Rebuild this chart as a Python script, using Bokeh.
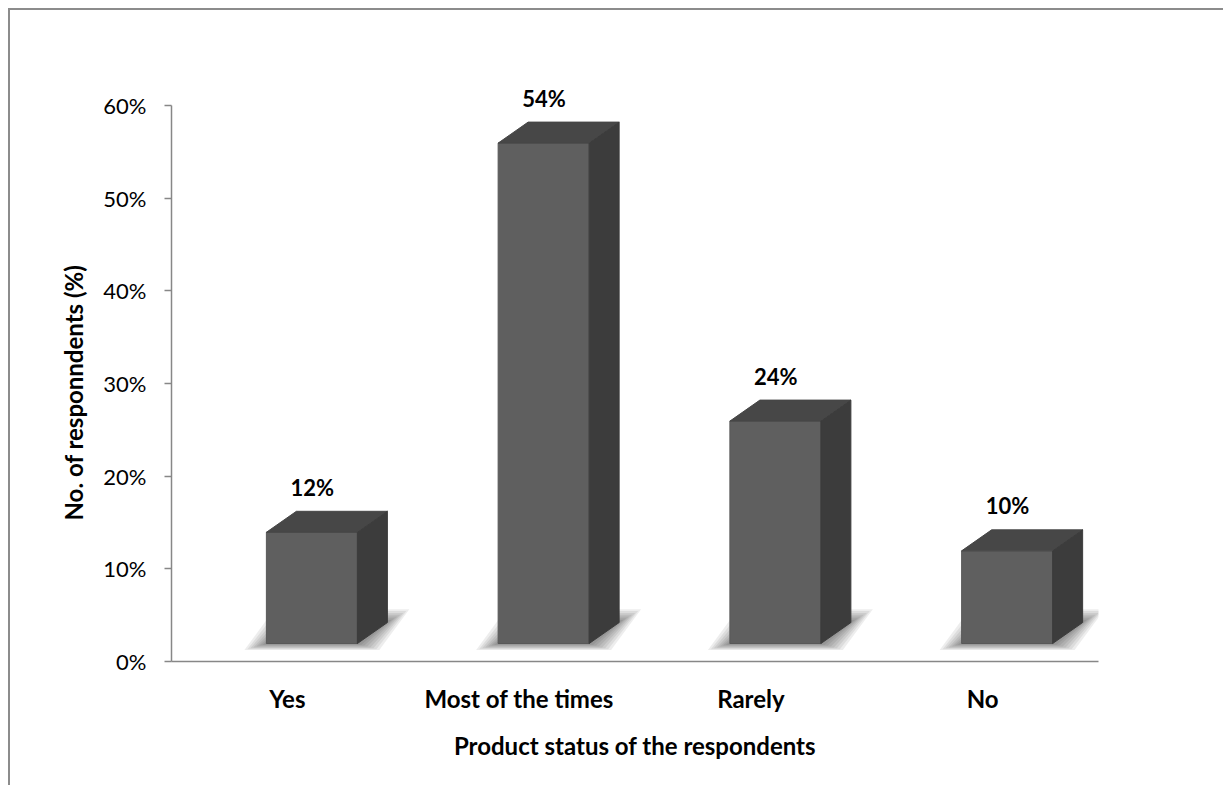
from bokeh.plotting import figure
from bokeh.models import Range1d, FixedTicker, Title
from bokeh.core.properties import value
from bokeh.embed import file_html
from bokeh.resources import INLINE

# ---- data ----
categories = ["Yes", "Most of the times", "Rarely", "No"]
respondents_pct = [12, 54, 24, 10]
value_labels = ["12%", "54%", "24%", "10%"]
y_ticks = [0, 10, 20, 30, 40, 50, 60]
y_tick_labels = ["0%", "10%", "20%", "30%", "40%", "50%", "60%"]
x_title = "Product status of the respondents"
y_title = "No. of responndents (%)"

# ---- layout (pixels) ----
W, H = 1223, 785
BORDER_L, BORDER_R, BORDER_T, BORDER_B = 171, 125, 40, 124
frame_w = W - BORDER_L - BORDER_R
frame_h = H - BORDER_T - BORDER_B
ux = frame_w / len(categories)          # px per category unit
uy = 556 / y_ticks[-1]                  # px per percent (0..60 % spans 556 px)

FONT = "Lato"
BOLD_SIZE = "24px"
TICK_SIZE = "22px"

p = figure(
    width=W, height=H,
    x_range=Range1d(0, len(categories)),
    y_range=Range1d(0, frame_h / uy),
    output_backend="svg", toolbar_location=None,
    min_border_left=BORDER_L, min_border_right=BORDER_R,
    min_border_top=BORDER_T, min_border_bottom=BORDER_B,
)
p.outline_line_color = None
p.xgrid.visible = False
p.ygrid.visible = False
p.background_fill_color = "white"
p.border_fill_color = "white"

# ---- 3D column geometry (px converted to data units) ----
front_off = -21 / ux        # front face left edge relative to category centre
front_w = 91 / ux
lift = 18 / uy              # front face sits slightly above the floor line
dx = 30 / ux                # depth offset to the back face
dy = 21 / uy

centers = [i + 0.5 for i in range(len(categories))]

shadow_xs, shadow_ys, shadow_alpha = [], [], []
front_l, front_r, front_b, front_t = [], [], [], []
top_xs, top_ys, side_xs, side_ys = [], [], [], []
lab_x, lab_y = [], []

for c, v in zip(centers, respondents_pct):
    fl = c + front_off
    fr = fl + front_w
    b = lift
    t = lift + v
    # soft floor shadow: stacked, widening translucent footprints
    for e in [22, 19, 16, 13, 10, 7, 4, 1]:
        ex, ey = e / ux, e / uy
        shadow_xs.append([fl - ex, fr + ex, fr + dx + ex, fl + dx - ex])
        shadow_ys.append([b - 0.3 * ey, b - 0.3 * ey, b + dy + 0.6 * ey, b + dy + 0.6 * ey])
        shadow_alpha.append(0.07)
    front_l.append(fl); front_r.append(fr); front_b.append(b); front_t.append(t)
    top_xs.append([fl, fr, fr + dx, fl + dx])
    top_ys.append([t, t, t + dy, t + dy])
    side_xs.append([fr, fr + dx, fr + dx, fr])
    side_ys.append([b, b + dy, t + dy, t])
    lab_x.append(c + 25 / ux)
    lab_y.append(t + dy + 24 / uy)

p.patches(shadow_xs, shadow_ys, fill_color="black", fill_alpha=shadow_alpha, line_color=None)
p.quad(left=front_l, right=front_r, bottom=front_b, top=front_t,
       fill_color="#5f5f5f", line_color="#585858", line_width=1)
p.patches(top_xs, top_ys, fill_color="#474747", line_color="#474747", line_width=1)
p.patches(side_xs, side_ys, fill_color="#3c3c3c", line_color="#3c3c3c", line_width=1)

p.text(x=lab_x, y=lab_y, text=value_labels, text_font=value(FONT), text_font_style="bold",
       text_font_size=TICK_SIZE, text_color="black", text_align="center", text_baseline="middle")

# ---- axes ----
AXIS_COLOR = "#878787"

xa = p.xaxis[0]
xa.ticker = FixedTicker(ticks=centers)
xa.major_label_overrides = {c: name for c, name in zip(centers, categories)}
xa.axis_line_color = AXIS_COLOR
xa.axis_line_width = 1.5
xa.major_tick_out = 0
xa.major_tick_in = 0
xa.minor_tick_out = 0
xa.minor_tick_in = 0
xa.major_label_standoff = 22
xa.major_label_text_font = FONT
xa.major_label_text_font_style = "bold"
xa.major_label_text_font_size = BOLD_SIZE
xa.major_label_text_color = "black"
xa.axis_label = x_title
xa.axis_label_standoff = 15
xa.axis_label_text_font = FONT
xa.axis_label_text_font_style = "bold"
xa.axis_label_text_font_size = BOLD_SIZE
xa.axis_label_text_color = "black"

ya = p.yaxis[0]
ya.ticker = FixedTicker(ticks=y_ticks)
ya.major_label_overrides = {t: s for t, s in zip(y_ticks, y_tick_labels)}
ya.bounds = (y_ticks[0], y_ticks[-1])
ya.axis_line_color = AXIS_COLOR
ya.axis_line_width = 1.5
ya.major_tick_line_color = AXIS_COLOR
ya.major_tick_line_width = 1.5
ya.major_tick_out = 7
ya.major_tick_in = 0
ya.minor_tick_out = 0
ya.minor_tick_in = 0
ya.major_label_standoff = 18
ya.major_label_text_font = FONT
ya.major_label_text_font_size = TICK_SIZE
ya.major_label_text_color = "black"

# value-axis title, anchored along the 0..60 % span of the axis
p.add_layout(Title(text=y_title, align="left", offset=141, standoff=26,
                   text_font=FONT, text_font_style="bold", text_font_size=BOLD_SIZE,
                   text_color="black"), "left")

html = file_html(p, INLINE)

# chart-area border: thin grey top and left edges around the page
border_css = (
    "<style>body::before{content:'';position:fixed;left:8px;top:8px;"
    "width:3000px;height:3000px;border-top:2px solid #8c8c8c;"
    "border-left:2px solid #8c8c8c;z-index:10;pointer-events:none;}</style>"
)
html = html.replace("</head>", border_css + "</head>", 1)

open("out.html", "w").write(html)
